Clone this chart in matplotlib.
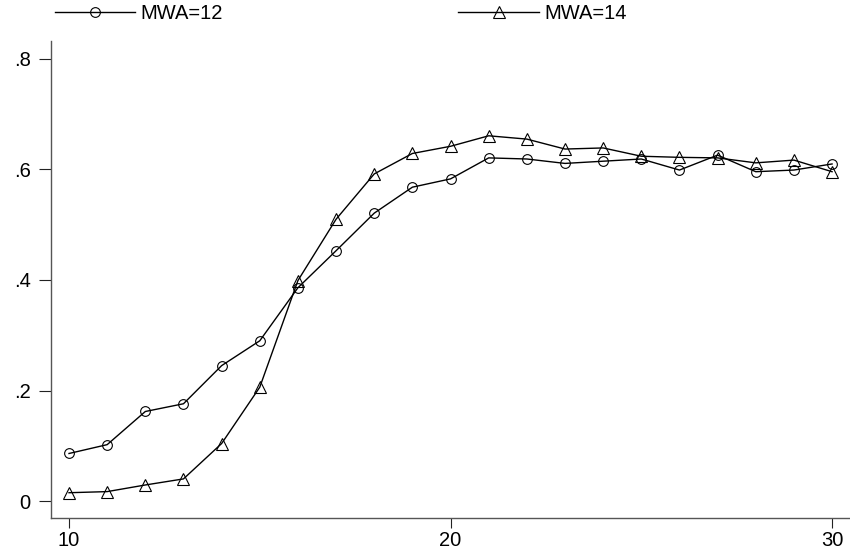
"""
Share by age, MWA=12 vs MWA=14 (Stata-style line plot)
"""
import matplotlib
matplotlib.use("Agg")
from matplotlib import pyplot as plt

ages = [10, 11, 12, 13, 14, 15, 16, 17, 18, 19, 20,
        21, 22, 23, 24, 25, 26, 27, 28, 29, 30]
mwa12 = [0.086, 0.102, 0.162, 0.176, 0.245, 0.290, 0.386, 0.453, 0.521, 0.568, 0.583,
         0.621, 0.619, 0.611, 0.615, 0.619, 0.599, 0.626, 0.596, 0.599, 0.610]
mwa14 = [0.015, 0.017, 0.029, 0.040, 0.104, 0.206, 0.399, 0.510, 0.592, 0.629, 0.642,
         0.661, 0.655, 0.637, 0.639, 0.624, 0.622, 0.621, 0.612, 0.617, 0.596]

x_ticks = [10, 20, 30]
y_ticks = [0, 0.2, 0.4, 0.6, 0.8]
y_tick_labels = ["0", ".2", ".4", ".6", ".8"]

plt.rcParams['font.family'] = ['Liberation Sans', 'DejaVu Sans']

fig = plt.figure(figsize=(8.5, 5.56), dpi=100)
ax = fig.add_axes([0.06, 0.0689, 0.94, 0.8574])

l1, = ax.plot(ages, mwa12, color='black', linewidth=1.0, marker='o', markersize=7,
              markerfacecolor='none', markeredgecolor='black', markeredgewidth=0.8,
              label='MWA=12')
l2, = ax.plot(ages, mwa14, color='black', linewidth=1.0, marker='^', markersize=8,
              markerfacecolor='none', markeredgecolor='black', markeredgewidth=0.8,
              label='MWA=14')

ax.set_xlim(9.528, 30.47)
ax.set_ylim(-0.0302, 0.8326)
ax.set_xticks(x_ticks)
ax.set_yticks(y_ticks)
ax.set_yticklabels(y_tick_labels)

for side in ['top', 'right']:
    ax.spines[side].set_visible(False)
for side in ['left', 'bottom']:
    ax.spines[side].set_color('#555555')
    ax.spines[side].set_linewidth(1.0)

ax.tick_params(axis='both', direction='out', width=0.8, color='#222222', labelsize=14.5)
ax.tick_params(axis='x', length=7.2, pad=2.5)
ax.tick_params(axis='y', length=8.6, pad=6)

fig.legend(handles=[l1, l2], loc='center left', bbox_to_anchor=(0.055, 0.975),
           ncol=2, frameon=False, fontsize=14.5, handlelength=4.0,
           handletextpad=0.25, columnspacing=11.7, borderaxespad=0)

plt.savefig("out.png", dpi=100)
